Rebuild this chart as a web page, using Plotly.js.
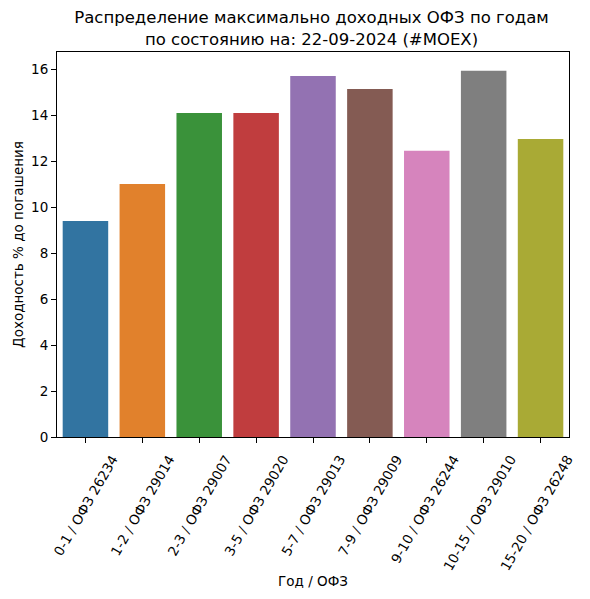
<!DOCTYPE html>
<html>
<head>
<meta charset="utf-8">
<script src="https://cdn.plot.ly/plotly-3.0.1.min.js"></script>
<style>
body { margin: 0; background: #fff; }
#plot { width: 590px; height: 599px; }
</style>
</head>
<body>
<div id="plot"></div>
<script>
// годы до погашения / выпуск ОФЗ
var categories = ["0-1 / ОФЗ 26234", "1-2 / ОФЗ 29014", "2-3 / ОФЗ 29007", "3-5 / ОФЗ 29020",
    "5-7 / ОФЗ 29013", "7-9 / ОФЗ 29009", "9-10 / ОФЗ 26244", "10-15 / ОФЗ 29010", "15-20 / ОФЗ 26248"]
var yields = [9.40, 11.01, 14.10, 14.10, 15.71, 15.14, 12.45, 15.93, 12.97]
var colors = ["#3274a1", "#e1812c", "#3a923a", "#c03d3e", "#9372b2", "#845b53", "#d684bd", "#7f7f7f", "#a9aa35"]

var font = "DejaVu Sans, sans-serif"

var data = [{
    type: "bar",
    x: categories,
    y: yields,
    marker: {color: colors, line: {width: 0}},
    hoverinfo: "x+y"
}]

var layout = {
    width: 590,
    height: 599,
    margin: {l: 57, r: 21, t: 52, b: 162},
    paper_bgcolor: "#fff",
    plot_bgcolor: "#fff",
    font: {family: font, size: 13, color: "#000"},
    bargap: 0.2,
    showlegend: false,
    title: {
        text: "Распределение максимально доходных ОФЗ по годам<br>по состоянию на: 22-09-2024 (#MOEX)",
        font: {family: font, size: 16.5, color: "#000"},
        x: 0.528,
        xanchor: "center",
        y: 0.961,
        yanchor: "middle"
    },
    xaxis: {
        type: "category",
        tickangle: -60,
        ticklabelshift: 27,
        ticklabelstandoff: 3,
        ticks: "outside",
        ticklen: 5,
        tickwidth: 1,
        tickcolor: "#000",
        showgrid: false,
        showline: true,
        linecolor: "#000",
        linewidth: 1,
        mirror: true,
        automargin: false,
        tickfont: {family: font, size: 13.5},
        title: {text: "Год / ОФЗ", font: {family: font, size: 13.5}, standoff: 4}
    },
    yaxis: {
        range: [0, 16.75],
        tickvals: [0, 2, 4, 6, 8, 10, 12, 14, 16],
        ticks: "outside",
        ticklen: 5,
        tickwidth: 1,
        tickcolor: "#000",
        showgrid: false,
        zeroline: false,
        showline: true,
        linecolor: "#000",
        linewidth: 1,
        mirror: true,
        automargin: false,
        tickfont: {family: font, size: 13.5},
        title: {text: "Доходность % до погашения", font: {family: font, size: 13.5}, standoff: 4}
    }
}

Plotly.newPlot("plot", data, layout, {displayModeBar: false, staticPlot: true})
</script>
</body>
</html>
